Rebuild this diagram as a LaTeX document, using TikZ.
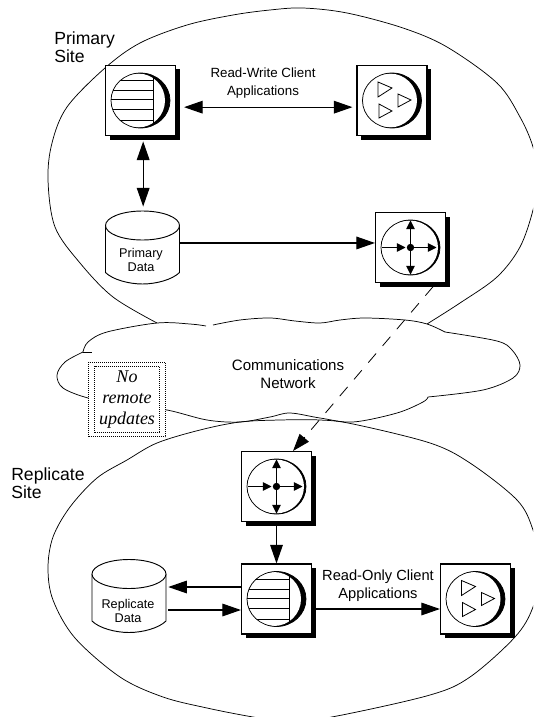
\documentclass[tikz,border=0pt]{standalone}
\usepackage{fontspec}
\setmainfont{Liberation Sans}
\newfontfamily\notefont{Liberation Serif}
\usetikzlibrary{arrows.meta,shadows,calc}
\tikzset{
  x=0.75pt,y=-0.75pt,
  sitecurve/.style={draw=black,line width=0.55pt},
  iconbox/.style={rectangle,draw=black,fill=white,line width=0.8pt,inner sep=0pt,
    minimum width=52.5pt,minimum height=52.5pt,
    drop shadow={shadow xshift=3pt,shadow yshift=-3pt,fill=black,opacity=1}},
  dbnode/.style={rectangle,inner sep=0pt,minimum width=55.5pt,minimum height=55pt},
  dbline/.style={draw=black,fill=white,line width=0.7pt},
  dbtext/.style={align=center,inner sep=0pt,font=\fontsize{9.5}{10.5}\selectfont},
  flow/.style={draw=black,line width=0.85pt,-{Triangle[length=14pt,width=9.5pt]}},
  flowboth/.style={draw=black,line width=0.85pt,{Triangle[length=14pt,width=9.5pt]}-{Triangle[length=14pt,width=9.5pt]}},
  smallflow/.style={draw=black,line width=0.7pt,-{Triangle[length=6.5pt,width=6.5pt]}},
  dashflow/.style={draw=black,line width=0.6pt,dash pattern=on 9pt off 7.5pt,-{Triangle[length=13pt,width=9pt]}},
  sitetext/.style={align=left,anchor=north west,inner sep=0pt,font=\fontsize{13.2}{14}\selectfont},
  labeltext/.style={align=center,inner sep=0pt},
  dotline/.style={draw=black,line width=0.7pt,dash pattern=on 0.7pt off 0.8pt},
  notebox/.style={rectangle,fill=white,dotline,inner sep=0pt,
    minimum width=57.5pt,minimum height=56pt,align=center,
    font=\notefont\itshape\fontsize{13.5}{15.8}\selectfont},
}
% #1 = right edge of the white part, so 29.5 minus the crescent's thickness
\newcommand{\crescent}[1]{%
  \fill[black] (0,0) ellipse [x radius=29.5,y radius=27.5];
  \fill[white] ({(#1-29.5)/2},0) ellipse [x radius={(#1+29.5)/2},y radius=27];
  \draw[black,line width=0.55pt] (0,0) ellipse [x radius=29.5,y radius=27.5];
}
\newcommand{\dbicon}[1]{%
  \begin{scope}[shift={(#1.center)}]
    \crescent{24.5}
    \begin{scope}
      \clip (0,0) ellipse [x radius=29.5,y radius=27.5];
      \draw[line width=0.7pt] (12.5,-30) -- (12.5,30);
      \foreach \q in {-20,-10,-1,9,20}{\draw[line width=0.7pt] (-30,\q) -- (12.5,\q);}
    \end{scope}
  \end{scope}}
\newcommand{\clienticon}[1]{%
  \begin{scope}[shift={(#1.center)}]
    \crescent{25}
    \draw[line width=0.6pt] (-14,-18.5) -- (-14,-3.5) -- (0,-12.5) -- cycle;
    \draw[line width=0.6pt] (6,-6.5) -- (6,6.5) -- (19,-.5) -- cycle;
    \draw[line width=0.6pt] (-13,3.5) -- (-13,17.5) -- (0,10.5) -- cycle;
  \end{scope}}
\newcommand{\routericon}[1]{%
  \begin{scope}[shift={(#1.center)}]
    \crescent{27.5}
    \draw[smallflow] (0,0) -- (0,-27);
    \draw[smallflow] (0,0) -- (0,27);
    \draw[smallflow] (0,0) -- (26,0);
    \draw[smallflow] (-29,0) -- (-5,0);
    \fill[black] (0,0) circle [radius=3.7];
  \end{scope}}
\newcommand{\dbdrum}[1]{%
  \begin{scope}[shift={(#1.center)}]
    \path[dbline] (-37,-22) -- (-37,25) .. controls (-30,32) and (-14,36.5) .. (0,36.5)
       .. controls (14,36.5) and (30,32) .. (37,25) -- (37,-22);
    \path[dbline] (0,-22) ellipse [x radius=37,y radius=14.5];
  \end{scope}}
\begin{document}
\begin{tikzpicture}
\useasboundingbox (0,0) rectangle (533,717);
\fill[white] (0,0) rectangle (533,717);
\begin{scope}
\clip (0,0) rectangle (533,717);
% primary site outline
\draw[sitecurve] plot[smooth,tension=.55] coordinates {(157,323) (113,297) (80,263) (55,227) (48,180) (52,143) (67,107) (105,68) (140,43) (187,25) (233,15) (270,10) (303,8) (347,13) (403,28) (447,47) (497,83) (520,117) (533,147) (538,178) (533,210) (520,247) (497,277) (460,303) (427,324)};
% replicate site outline
\draw[sitecurve] plot[smooth cycle,tension=.55] coordinates {(240,422) (200,430) (157,443) (127,460) (97,478) (70,507) (53,537) (48,568) (53,600) (75,638) (120,677) (163,697) (207,708) (253,717) (290,722) (337,716) (430,695) (470,677) (515,637) (533,607) (541,568) (533,530) (517,500) (470,463) (430,443) (353,424) (320,420) (280,420)};
% cloud
\draw[sitecurve] plot[smooth,tension=.55] coordinates {(213,325) (240,320) (270,318) (295,321) (320,323) (340,320) (365,318) (405,320) (427,324) (445,332)};
\draw[sitecurve] plot[smooth,tension=.55] coordinates {(445,332) (497,341) (512,350) (520,365) (513,378) (483,390) (428,397)};
\draw[sitecurve] plot[smooth,tension=.55] coordinates {(428,397) (423,402) (397,413) (353,422) (320,418) (290,413) (270,417) (240,422) (207,420) (167,410) (125,405) (88,398) (63,388) (57,375) (65,362) (83,352)};
\draw[sitecurve] (83,352) -- (92,352);
\draw[sitecurve] plot[smooth,tension=.55] coordinates {(83,352) (88,342) (107,332) (157,323) (190,324) (206,326)};
\end{scope}
% note
\node[notebox] (note) at (127,399.5) {No\\remote\\updates};
\draw[dotline] ([shift={(5pt,-3.5pt)}]note.north west) rectangle ([shift={(-4.5pt,3.5pt)}]note.south east);
% icons
\node[iconbox] (dba) at (140.5,100.5) {};
\node[iconbox] (cla) at (392,100.5) {};
\node[iconbox] (rta) at (410.5,247.5) {};
\node[iconbox] (rtb) at (276.5,486.5) {};
\node[iconbox] (dbb) at (276.5,599) {};
\node[iconbox] (clb) at (475.5,599) {};
\dbicon{dba}
\clienticon{cla}
\routericon{rta}
\routericon{rtb}
\dbicon{dbb}
\clienticon{clb}
% data
\node[dbnode] (pd) at (142.5,247.5) {};
\node[dbnode] (rd) at (129,596) {};
\dbdrum{pd}
\dbdrum{rd}
\node[dbtext] (pdt) at (141,260) {Primary\\Data};
\node[dbtext] (rdt) at (128,611) {Replicate\\Data};
% texts
\node[sitetext] (psite) at (54,31) {Primary\\Site};
\node[sitetext] (rsite) at (11,467) {Replicate\\Site};
\node[labeltext,font=\fontsize{10}{13.5}\selectfont] (rw) at (263,83) {Read-Write Client\\Applications};
\node[labeltext,font=\fontsize{11}{13.5}\selectfont] (ro) at (378,586) {Read-Only Client\\Applications};
\node[labeltext,font=\fontsize{11.3}{13.5}\selectfont] (cn) at (288,374) {Communications\\Network};
% connectors
\draw[flowboth,shorten <=6pt,shorten >=3pt] ([yshift=-5pt]dba.east) -- ([yshift=-5pt]cla.west);
\draw[flowboth,shorten <=4pt,shorten >=3pt] ([xshift=2pt]dba.south) -- ([xshift=0.5pt]pd.north);
\draw[flow] ([yshift=3.4pt]pd.east) -- ([yshift=3.4pt]rta.west);
\draw[dashflow] ([shift={(17pt,-2.6pt)}]rta.south) -- ([xshift=12.4pt]rtb.north);
\draw[flow,shorten <=3pt] (rtb.south) -- (dbb.north);
\draw[flow,shorten >=1.5pt] (dbb.west |- 0,587) -- (rd.east |- 0,587);
\draw[flow,shorten <=1.5pt] (rd.east |- 0,610) -- (dbb.west |- 0,610);
\draw[flow,shorten <=3pt] (dbb.east |- 0,609) -- (clb.west |- 0,609);
\end{tikzpicture}
\end{document}
